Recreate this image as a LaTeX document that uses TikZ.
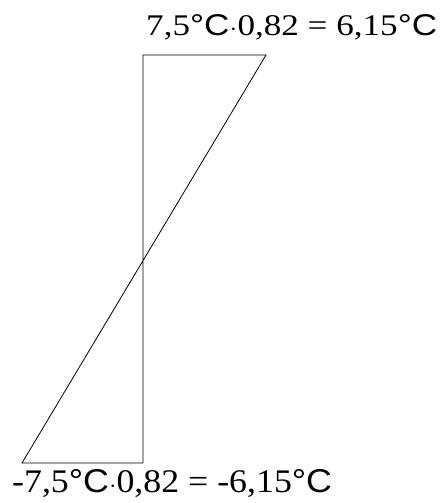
\documentclass[tikz,border=0pt]{standalone}
\usepackage{fontspec}
\setmainfont{Liberation Serif}
\newfontfamily\unitfont{Liberation Sans}
\usepackage{tikz}
\usetikzlibrary{positioning}
\newcommand{\degC}{{\unitfont\textdegree C}}

\begin{document}
\begin{tikzpicture}[x=1pt,y=-1pt,every node/.style={inner sep=0pt,anchor=base west,transform shape}]
\useasboundingbox (0,0) rectangle (446,503);
\coordinate (ctop) at (143,55);
\coordinate (rtop) at (266,55);
\coordinate (cbot) at (143,463);
\coordinate (lbot) at (22,463);
\node[xscale=1.17,font=\fontsize{30}{34}\selectfont] (ttop) at (146,36) {7,5\degC$\cdot$0,82 = 6,15\degC};
\node[xscale=1.085,font=\fontsize{33}{37}\selectfont] (tbot) at (12,492) {-7,5\degC$\cdot$0,82 = -6,15\degC};
\draw[line width=0.8pt] (cbot) -- (ctop) -- (rtop) -- (lbot) -- (cbot);
\end{tikzpicture}
\end{document}
